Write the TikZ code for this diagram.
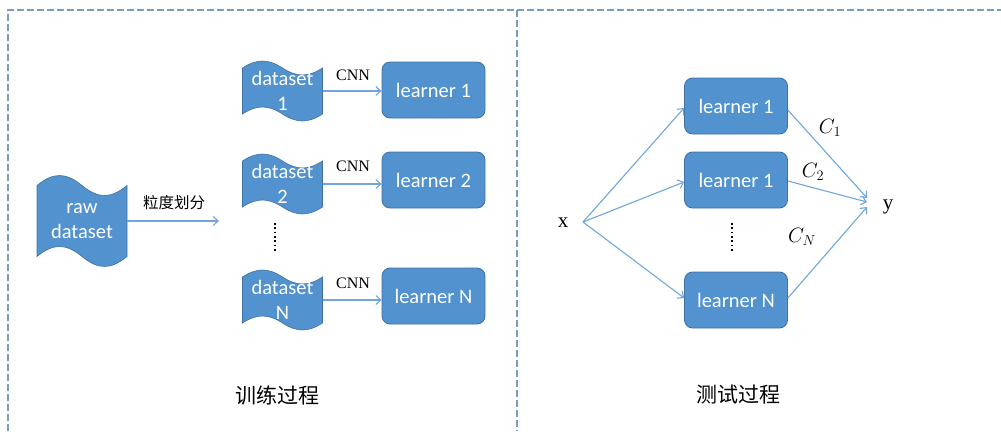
\documentclass[tikz,border=0pt]{standalone}
\usepackage{fontspec}
\setmainfont{Liberation Serif}
\newfontfamily\boxfont{Carlito}
\newfontfamily\cjk{Noto Sans CJK SC}
\usetikzlibrary{arrows.meta}

\definecolor{shapefill}{RGB}{82,146,206}
\definecolor{shapeline}{RGB}{65,113,160}
\definecolor{linkblue}{RGB}{112,166,220}
\definecolor{frameblue}{RGB}{125,155,186}

\tikzset{
  learnerbox/.style={rounded corners=8pt, fill=shapefill, draw=shapeline, line width=0.8pt,
    minimum width=103pt, minimum height=56pt, inner sep=0pt,
    font=\boxfont\fontsize{20.5}{24}\selectfont, text=white},
  tapefillstyle/.style={fill=shapefill, draw=shapeline, line width=0.6pt},
  tapetext/.style={inner sep=0pt, align=center, text=white,
    font=\boxfont\fontsize{20.5}{24.5}\selectfont},
  link/.style={draw=linkblue, line width=1.1pt, -{Straight Barb[length=5pt,width=9pt]}},
  framedash/.style={draw=frameblue, line width=1.5pt, dash pattern=on 7pt off 3pt},
  vdots/.style={draw=black, line width=1.7pt, dash pattern=on 1.7pt off 2.6pt},
  cnnlabel/.style={font=\fontsize{16}{19}\selectfont, inner sep=0pt},
  varlabel/.style={font=\fontsize{21}{25}\selectfont, inner sep=0pt},
  caption/.style={font=\cjk\fontsize{21}{25}\selectfont, inner sep=0pt}
}

% wavy "punched tape" shape with a text node of the same size on top
% #1 name, #2 cx, #3 cy, #4 half width, #5 half height, #6 amplitude, #7 text
\newcommand\tapenode[7]{%
  \pgfmathsetmacro\tL{#2-#4}\pgfmathsetmacro\tR{#2+#4}%
  \pgfmathsetmacro\tT{#3-#5}\pgfmathsetmacro\tB{#3+#5}%
  \pgfmathsetmacro\tk{0.36*#4}\pgfmathsetmacro\tA{4*#6/3}%
  \path[tapefillstyle] (\tL,\tT)
    .. controls (\tL+\tk,\tT-\tA) and (#2-\tk,\tT-\tA) .. (#2,\tT)
    .. controls (#2+\tk,\tT+\tA) and (\tR-\tk,\tT+\tA) .. (\tR,\tT)
    -- (\tR,\tB)
    .. controls (\tR-\tk,\tB+\tA) and (#2+\tk,\tB+\tA) .. (#2,\tB)
    .. controls (#2-\tk,\tB-\tA) and (\tL+\tk,\tB-\tA) .. (\tL,\tB)
    -- cycle;
  \node[tapetext, minimum width=2*#4 pt, minimum height=2*#5 pt] (#1) at (#2,#3) {#7};
}

\begin{document}
\begin{tikzpicture}[x=1pt, y=-1pt]
\useasboundingbox (0,0) rectangle (1001,431);

% frame: top edge, left edge and the divider between the two panels
\coordinate (ftl) at (8,10);
\coordinate (ftr) at (1001,10);
\coordinate (fbl) at (8,431);
\coordinate (dtop) at (517,10);
\coordinate (dbot) at (517,431);
\draw[framedash] (fbl) -- (ftl) -- (ftr);
\draw[framedash] (dtop) -- (dbot);

% ---------- training ----------
\tapenode{raw}{82}{221}{45}{35.5}{10}{raw\\dataset}
\tapenode{d1}{282.5}{91}{40}{23}{7}{dataset\\1}
\tapenode{d2}{282.5}{184}{40}{23}{7}{dataset\\2}
\tapenode{dn}{282.5}{300}{40}{23}{7}{dataset\\N}

\node[learnerbox] (l1) at (433.5,90) {learner 1};
\node[learnerbox] (l2) at (433.5,180) {learner 2};
\node[learnerbox] (ln) at (433.5,296) {learner N};

\coordinate (split) at (219,221);
\draw[link] (raw.east) -- (split);
\node[font=\cjk\fontsize{15.5}{18}\selectfont, inner sep=0pt] (splitlbl) at (174,203) {粒度划分};

\draw[link] (d1.east) -- (d1.east -| l1.west);
\draw[link] (d2.east) -- (d2.east -| l2.west);
\draw[link] (dn.east) -- (dn.east -| ln.west);
\node[cnnlabel] (cnn1) at (353,75) {CNN};
\node[cnnlabel] (cnn2) at (353,166) {CNN};
\node[cnnlabel] (cnn3) at (353,283) {CNN};

\coordinate (ldt) at (275,223);
\coordinate (ldb) at (275,253);
\draw[vdots] (ldt) -- (ldb);

\node[caption] (train) at (277,395) {训练过程};

% ---------- testing ----------
\node[learnerbox] (r1) at (736,106) {learner 1};
\node[learnerbox] (r2) at (736,180) {learner 1};
\node[learnerbox] (rn) at (736,300) {learner N};

\node[varlabel] (xin) at (563,223) {x};
\node[varlabel] (yout) at (888,207) {y};
\coordinate (xs) at (583,222);
\coordinate (ye1) at (867,198);
\coordinate (ye2) at (867,202);
\coordinate (ye3) at (867,207);

\draw[link] (xs) -- ([yshift=-2pt]r1.west);
\draw[link] (xs) -- ([yshift=-2pt]r2.west);
\draw[link] (xs) -- ([yshift=2pt]rn.west);

\draw[link] ([yshift=-4pt]r1.east) -- (ye1);
\draw[link] ([yshift=-1pt]r2.east) -- (ye2);
\draw[link] ([yshift=2pt]rn.east) -- (ye3);

\node[varlabel] (c1) at (830,128) {$C_1$};
\node[varlabel] (c2) at (813,172) {$C_2$};
\node[varlabel] (cn) at (802,237) {$C_N$};

\coordinate (rdt) at (732,223);
\coordinate (rdb) at (732,253);
\draw[vdots] (rdt) -- (rdb);

\node[caption] (test) at (738,395) {测试过程};
\end{tikzpicture}
\end{document}
